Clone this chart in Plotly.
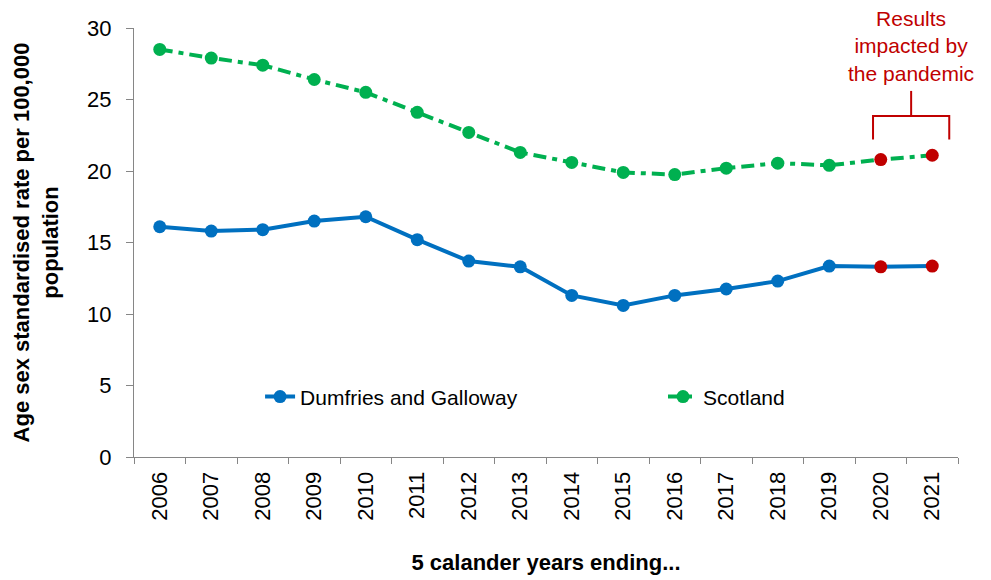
import plotly.graph_objects as go

years = ["2006", "2007", "2008", "2009", "2010", "2011", "2012", "2013",
         "2014", "2015", "2016", "2017", "2018", "2019", "2020", "2021"]
dumfries = [16.1, 15.8, 15.9, 16.5, 16.8, 15.2, 13.7, 13.3,
            11.3, 10.6, 11.3, 11.75, 12.3, 13.35, 13.3, 13.35]
scotland = [28.5, 27.9, 27.4, 26.4, 25.5, 24.1, 22.7, 21.3,
            20.6, 19.9, 19.75, 20.2, 20.55, 20.4, 20.8, 21.1]
pandemic_years = ["2020", "2021"]

BLUE = "#0070C0"
GREEN = "#00B050"
RED = "#C00000"
FONT = "Liberation Sans, Arial, sans-serif"

def marker_colors(base):
    return [RED if y in pandemic_years else base for y in years]

fig = go.Figure()
fig.add_trace(go.Scatter(
    x=years, y=dumfries, name="Dumfries and Galloway", mode="lines+markers",
    line=dict(color=BLUE, width=4),
    marker=dict(size=13, color=marker_colors(BLUE)),
    legend="legend",
))
fig.add_trace(go.Scatter(
    x=years, y=scotland, name="Scotland", mode="lines+markers",
    line=dict(color=GREEN, width=4, dash="13px,6px,5px,6px"),
    marker=dict(size=13, color=marker_colors(GREEN)),
    legend="legend2",
))

legend_common = dict(orientation="h", xanchor="left", yanchor="middle", y=0.14,
                     font=dict(size=21, color="#000000"), bgcolor="rgba(0,0,0,0)")

fig.update_layout(
    width=983, height=572,
    margin=dict(l=126, r=33, t=20, b=123),
    paper_bgcolor="white", plot_bgcolor="white",
    font=dict(family=FONT, size=21, color="#000000"),
    showlegend=True,
    legend=dict(x=0.153, **legend_common),
    legend2=dict(x=0.642, **legend_common),
    xaxis=dict(
        type="category", range=[-0.5, 15.5], tickangle=-90, showgrid=False,
        showline=True, linecolor="#868686", linewidth=1,
        ticks="outside", ticklen=6, tickcolor="#868686", tickson="boundaries",
        tickfont=dict(size=22), ticklabelstandoff=5,
        title=dict(text="<b>5 calander years ending...</b>", font=dict(size=22), standoff=34),
        automargin=False,
    ),
    yaxis=dict(
        range=[0, 30], dtick=5, showgrid=False, zeroline=False,
        showline=True, linecolor="#868686", linewidth=1,
        ticks="outside", ticklen=7, tickcolor="#868686",
        tickfont=dict(size=22), ticklabelstandoff=10,
        title=dict(text="<b>Age sex standardised rate per 100,000<br>population</b>",
                   font=dict(size=22), standoff=22),
        automargin=False,
    ),
)

# bracket marking pandemic-affected results
fig.add_shape(type="path", xref="x", yref="y",
              path="M 13.85,22.2 L 13.85,23.85 L 15.33,23.85 L 15.33,22.2",
              line=dict(color=RED, width=2))
fig.add_shape(type="line", xref="x", yref="y",
              x0=14.59, x1=14.59, y0=23.85, y1=25.6,
              line=dict(color=RED, width=2))
fig.add_annotation(xref="x", yref="paper", x=14.59, y=0.958, yanchor="middle",
                   text="Results<br>impacted by<br>the pandemic", showarrow=False,
                   font=dict(color=RED, size=21, family=FONT), align="center")

fig.write_html("out.html")
